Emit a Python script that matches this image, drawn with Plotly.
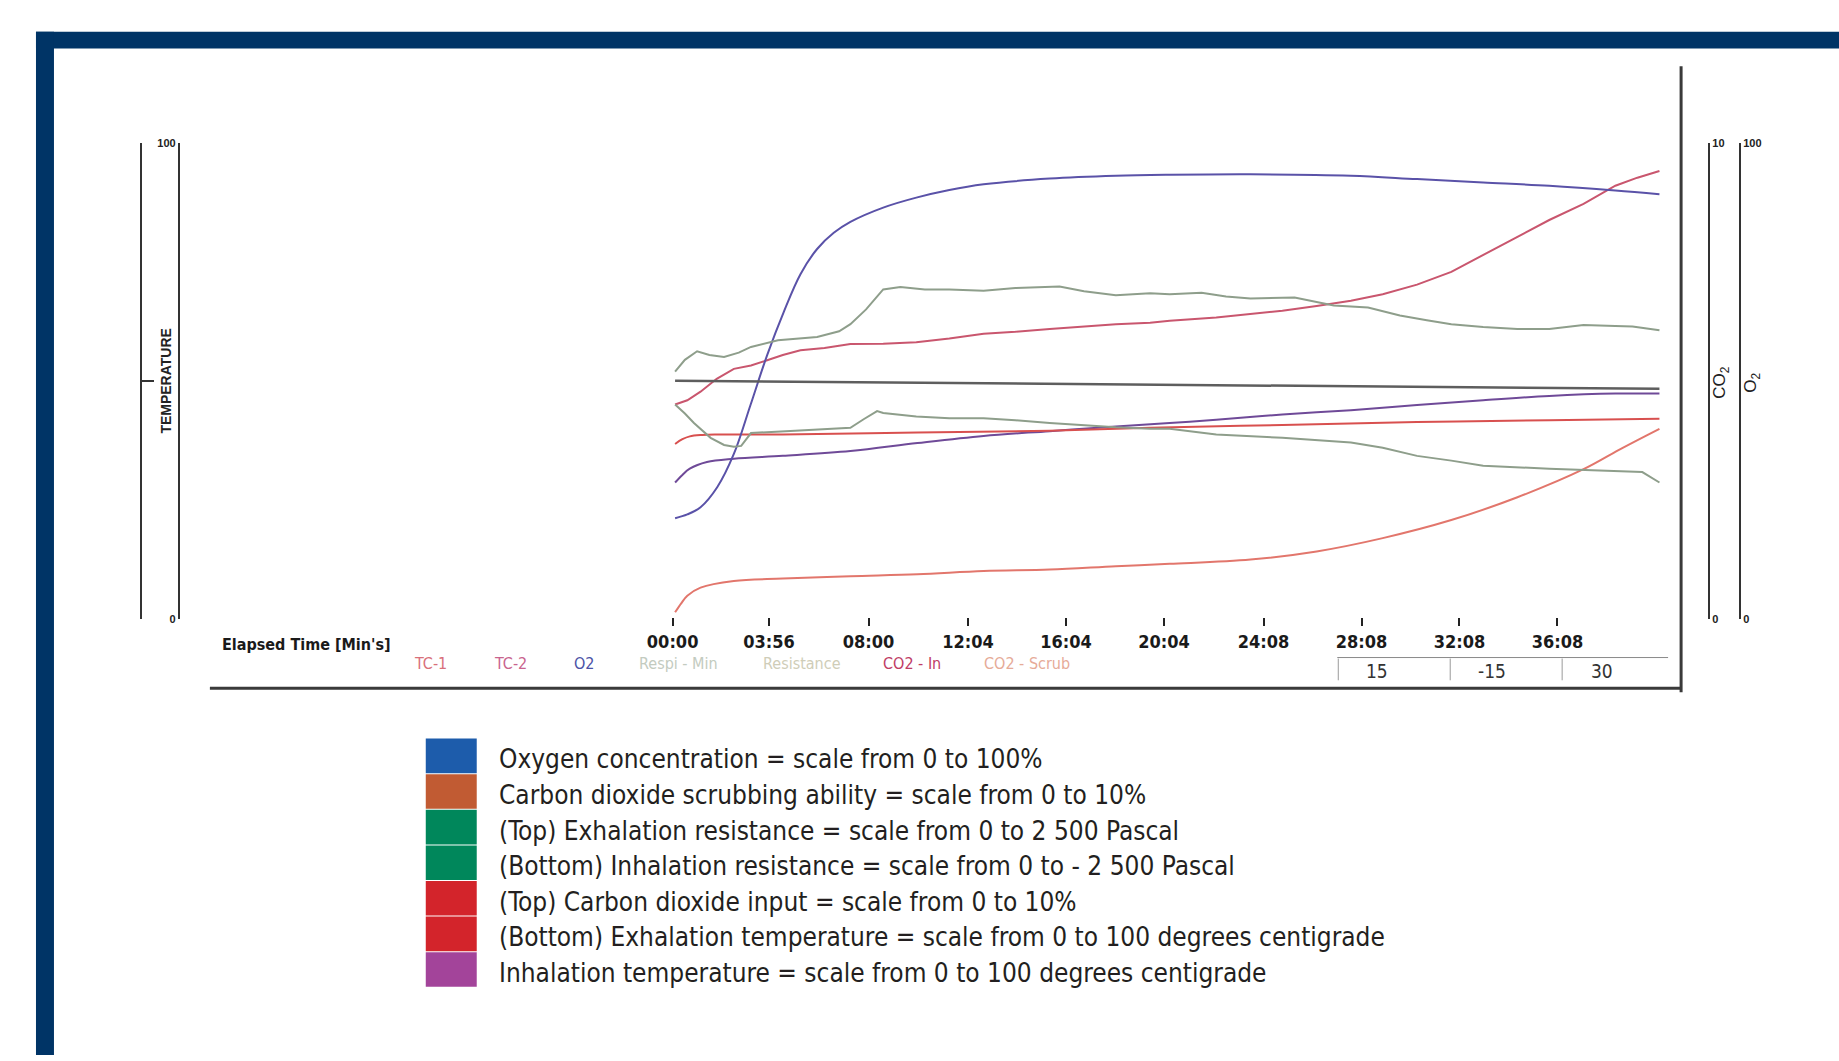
import plotly.graph_objects as go

W, H = 1839, 1061

# ---------------- data ----------------
# time in minutes
tick_minutes = [0, 3 + 56/60, 8, 12 + 4/60, 16 + 4/60, 20 + 4/60, 24 + 8/60, 28 + 8/60, 32 + 8/60, 36 + 8/60]
tick_labels = ["00:00", "03:56", "08:00", "12:04", "16:04", "20:04", "24:08", "28:08", "32:08", "36:08"]

# Oxygen concentration (%), scale 0-100
t_o2 = [0.1, 0.6, 1.14, 1.82, 2.5, 3.18, 3.86, 4.54, 5.22, 5.9, 6.58, 7.26, 8.6, 9.95, 11.3, 12.7,
        15.4, 18.1, 20.3, 23.6, 27.7, 30.4, 33.1, 35.8, 38.5, 40.3]
o2 = [21.2, 22.0, 23.5, 27.7, 34.7, 45.0, 55.5, 64.6, 72.5, 77.8, 81.2, 83.5, 86.5, 88.6, 90.2, 91.4,
      92.6, 93.2, 93.4, 93.5, 93.2, 92.5, 91.8, 91.1, 90.1, 89.3]

# Carbon dioxide input (%), scale 0-10
t_co2_in = [0.1, 0.6, 1.14, 1.8, 2.5, 3.2, 3.86, 4.5, 5.22, 6.2, 7.26, 8.6, 9.95, 11.3, 12.7, 14.0, 15.4,
            16.8, 18.1, 19.5, 20.3, 22.2, 24.9, 26.3, 27.7, 29.0, 30.4, 31.8, 33.1, 34.5, 35.8, 37.2,
            38.5, 39.4, 40.3]
co2_in = [4.51, 4.60, 4.78, 5.05, 5.26, 5.33, 5.44, 5.55, 5.65, 5.70, 5.78, 5.79, 5.82, 5.90, 6.00, 6.04,
          6.10, 6.15, 6.20, 6.23, 6.27, 6.34, 6.48, 6.58, 6.69, 6.83, 7.03, 7.30, 7.66, 8.04, 8.39, 8.73,
          9.11, 9.28, 9.42]

# Carbon dioxide scrubbing (%), scale 0-10
t_co2_scrub = [0.1, 0.35, 0.6, 1.14, 2.5, 4.5, 7.26, 10.0, 12.7, 15.4, 18.1, 20.3, 23.6, 26.3, 29.0,
               31.8, 34.5, 37.2, 38.8, 40.3]
co2_scrub = [0.14, 0.33, 0.49, 0.66, 0.80, 0.85, 0.90, 0.94, 1.01, 1.04, 1.11, 1.16, 1.25, 1.42, 1.70,
             2.08, 2.56, 3.15, 3.60, 4.00]

# Exhalation resistance (Pa), scale 0 to 2500 (upper half)
t_exh_res = [0.1, 0.5, 1.0, 1.5, 2.1, 2.7, 3.2, 4.3, 5.9, 6.8, 7.26, 7.9, 8.6, 9.3, 10.3, 11.3, 12.7,
             14.0, 15.8, 16.8, 18.1, 19.5, 20.3, 21.6, 22.6, 23.6, 25.4, 27.0, 28.4, 29.7, 30.8, 31.8,
             33.1, 34.5, 35.8, 37.2, 38.5, 39.2, 40.3]
exh_res = [100, 225, 315, 275, 255, 300, 360, 430, 465, 525, 600, 755, 965, 990, 965, 965, 950,
           980, 995, 945, 905, 925, 915, 930, 890, 870, 880, 795, 775, 690, 640, 600,
           570, 550, 550, 590, 580, 575, 535]

# Inhalation resistance (Pa), scale 0 to -2500 (lower half)
t_inh_res = [0.1, 0.5, 0.87, 1.55, 2.1, 2.5, 2.8, 3.2, 5.0, 7.26, 7.8, 8.35, 8.6, 9.95, 11.3, 12.7,
             14.0, 15.4, 18.1, 19.5, 20.3, 22.2, 24.9, 27.7, 29.0, 30.4, 31.8, 33.1, 35.8, 38.5, 39.6, 40.3]
inh_res = [-245, -340, -440, -595, -670, -690, -680, -545, -520, -490, -400, -315, -335, -370, -390, -390,
           -410, -440, -485, -500, -500, -560, -595, -645, -700, -785, -835, -890, -920, -940, -955, -1065]

# Resistance zero line (Pa)
t_res_zero = [0.1, 20.0, 40.3]
res_zero = [5, -35, -80]

# TC-1: exhalation temperature (deg C), scale 0-100
t_exh_temp = [0.1, 0.4, 0.7, 1.2, 1.8, 4.5, 10.0, 15.4, 19.5, 24.9, 30.4, 35.8, 40.3]
exh_temp = [36.8, 37.8, 38.4, 38.7, 38.8, 38.8, 39.2, 39.6, 40.2, 40.8, 41.4, 41.8, 42.1]

# TC-2: inhalation temperature (deg C), scale 0-100
t_inh_temp = [0.1, 0.4, 0.7, 1.4, 2.5, 4.5, 7.26, 10.0, 12.7, 15.4, 18.1, 20.3, 22.2, 24.9, 27.7, 30.4,
              33.1, 35.8, 38.5, 40.3]
inh_temp = [28.7, 30.3, 31.6, 33.0, 33.7, 34.3, 35.3, 37.0, 38.5, 39.5, 40.5, 41.2, 41.9, 43.0, 43.9, 45.0,
            46.0, 46.9, 47.4, 47.4]

channel_labels = ["TC-1", "TC-2", "O2", "Respi - Min", "Resistance", "CO2 - In", "CO2 - Scrub"]
scale_labels = ["15", "-15", "30"]

legend_texts = [
    "Oxygen concentration = scale from 0 to 100%",
    "Carbon dioxide scrubbing ability = scale from 0 to 10%",
    "(Top) Exhalation resistance = scale from 0 to 2 500 Pascal",
    "(Bottom) Inhalation resistance = scale from 0 to - 2 500 Pascal",
    "(Top) Carbon dioxide input = scale from 0 to 10%",
    "(Bottom) Exhalation temperature = scale from 0 to 100 degrees centigrade",
    "Inhalation temperature = scale from 0 to 100 degrees centigrade",
]

# ---------------- styling ----------------
NAVY = "#003466"
NARROW = "Liberation Sans Narrow, DejaVu Sans Condensed, Arial Narrow, sans-serif"
LEG_FONT = "DejaVu Sans Condensed, DejaVu Sans, sans-serif"
legend_colors = ["#1d5cab", "#c15b33", "#00875b", "#00875b", "#d3242b", "#d3242b", "#a3449a"]
channel_colors = ["#d9707a", "#c9648e", "#4b52a6", "#c3cbc0", "#cfcdb8", "#c03c66", "#e6ab98"]


def px(x):
    return x / W


def py(y):
    return 1 - y / H


X0_PX, PPM = 672.0, 24.5          # pixel of t=0, pixels per minute
T_MIN, T_MAX = -1.0, 41.5
Y_TOP, Y_BOT = 139.0, 620.0        # plot domain in pixels

fig = go.Figure()

line_o2 = "#5a52a8"
line_purple = "#6f4a98"
line_red_top = "#c9566e"
line_red_bot = "#d8504f"
line_scrub = "#e2766c"
line_green = "#8e9e8b"

fig.add_trace(go.Scatter(x=t_res_zero, y=res_zero, yaxis="y5", mode="lines",
                         line=dict(color="#5e5e5e", width=2.5)))
fig.add_trace(go.Scatter(x=t_exh_res, y=exh_res, yaxis="y5", mode="lines",
                         line=dict(color=line_green, width=2)))
fig.add_trace(go.Scatter(x=t_inh_res, y=inh_res, yaxis="y5", mode="lines",
                         line=dict(color=line_green, width=2)))
fig.add_trace(go.Scatter(x=t_co2_scrub, y=co2_scrub, yaxis="y3", mode="lines",
                         line=dict(color=line_scrub, width=2, shape="spline")))
fig.add_trace(go.Scatter(x=t_co2_in, y=co2_in, yaxis="y3", mode="lines",
                         line=dict(color=line_red_top, width=2)))
fig.add_trace(go.Scatter(x=t_exh_temp, y=exh_temp, yaxis="y2", mode="lines",
                         line=dict(color=line_red_bot, width=2, shape="spline")))
fig.add_trace(go.Scatter(x=t_inh_temp, y=inh_temp, yaxis="y", mode="lines",
                         line=dict(color=line_purple, width=2, shape="spline")))
fig.add_trace(go.Scatter(x=t_o2, y=o2, yaxis="y4", mode="lines",
                         line=dict(color=line_o2, width=2, shape="spline")))

ydom = [py(Y_BOT), py(Y_TOP)]
axis_font = dict(family="Liberation Sans, Arial, sans-serif", size=11, color="#222")

common_y = dict(domain=ydom, anchor="free", showgrid=False, zeroline=False, showline=True,
                linecolor="#333", linewidth=2, ticks="inside", tickcolor="#333", tickwidth=2,
                tickfont=axis_font)

fig.update_layout(
    width=W, height=H, autosize=False,
    margin=dict(l=0, r=0, t=0, b=0),
    paper_bgcolor="white", plot_bgcolor="rgba(0,0,0,0)",
    showlegend=False,
    xaxis=dict(domain=[px(X0_PX + PPM * T_MIN), px(X0_PX + PPM * T_MAX)], range=[T_MIN, T_MAX],
               anchor="free", position=py(618), showgrid=False, zeroline=False, showline=False,
               tickvals=tick_minutes, ticktext=["<b>%s</b>" % s for s in tick_labels],
               ticks="outside", ticklen=8, tickwidth=1.5, tickcolor="#222",
               tickfont=dict(family=NARROW, size=18, color="#1a1a1a")),
    yaxis=dict(common_y, position=px(178), side="left", range=[0, 100],
               tickvals=[0, 100], ticktext=["<b>0</b>", "<b>100</b>"], ticklen=10),
    yaxis2=dict(common_y, overlaying="y", position=px(140), side="left", range=[0, 100],
                tickvals=[0, 50, 100], showticklabels=False, ticklen=12),
    yaxis3=dict(common_y, overlaying="y", position=px(1709), side="right", range=[0, 10],
                tickvals=[0, 10], ticktext=["<b>0</b>", "<b>10</b>"], ticklen=14),
    yaxis4=dict(common_y, overlaying="y", position=px(1740), side="right", range=[0, 100],
                tickvals=[0, 100], ticktext=["<b>0</b>", "<b>100</b>"], ticklen=14),
    yaxis5=dict(domain=ydom, overlaying="y", anchor="free", position=px(178),
                range=[-2500, 2500], visible=False),
)

shapes = []
# navy page border
shapes.append(dict(type="rect", xref="paper", yref="paper", x0=px(35), x1=px(W), y0=py(43), y1=py(26),
                   fillcolor=NAVY, line=dict(width=0), layer="below"))
shapes.append(dict(type="rect", xref="paper", yref="paper", x0=px(35), x1=px(53), y0=py(H), y1=py(26),
                   fillcolor=NAVY, line=dict(width=0), layer="below"))
# frame of the printout
shapes.append(dict(type="line", xref="paper", yref="paper", x0=px(1681), x1=px(1681), y0=py(694), y1=py(61),
                   line=dict(color="#3a3a3a", width=3)))
shapes.append(dict(type="line", xref="paper", yref="paper", x0=px(209), x1=px(1681), y0=py(690), y1=py(690),
                   line=dict(color="#3a3a3a", width=3)))
# bottom-right scale bar
shapes.append(dict(type="line", xref="paper", yref="paper", x0=px(1337), x1=px(1668), y0=py(659), y1=py(659),
                   line=dict(color="#8a8a8a", width=1)))
for xx in [1338, 1450, 1562]:
    shapes.append(dict(type="line", xref="paper", yref="paper", x0=px(xx), x1=px(xx), y0=py(682), y1=py(660),
                       line=dict(color="#9a9a9a", width=1)))
# legend colour keys
ROW_TOP, ROW_H = 741.0, 36.0
for i, c in enumerate(legend_colors):
    shapes.append(dict(type="rect", xref="paper", yref="paper", x0=px(425), x1=px(476),
                       y0=py(ROW_TOP + ROW_H * (i + 1) - 1), y1=py(ROW_TOP + ROW_H * i),
                       fillcolor=c, line=dict(width=0)))
fig.update_layout(shapes=shapes)


def label(x, y, text, font, angle=0, xanchor="center"):
    return dict(x=px(x), y=py(y), xref="paper", yref="paper", text=text, textangle=angle,
                xanchor=xanchor, yanchor="middle", showarrow=False, font=font)


ann = []
ann.append(label(165, 379, "<b>TEMPERATURE</b>",
                 dict(family="Liberation Sans, Arial, sans-serif", size=14, color="#222"), angle=-90))
ann.append(label(1721, 381, "CO<sub>2</sub>",
                 dict(family="Liberation Sans, Arial, sans-serif", size=17, color="#222"), angle=-90))
ann.append(label(1752, 381, "O<sub>2</sub>",
                 dict(family="Liberation Sans, Arial, sans-serif", size=17, color="#222"), angle=-90))
ann.append(label(219, 646, "<b>Elapsed Time [Min's]</b>", dict(family=NARROW, size=16, color="#1a1a1a"),
                 xanchor="left"))
channel_x = [430, 510, 583, 678, 801, 911, 1027]
for lbl, cx, col in zip(channel_labels, channel_x, channel_colors):
    ann.append(label(cx, 665, lbl, dict(family=NARROW, size=16, color=col)))
for lbl, cx in zip(scale_labels, [1377, 1492, 1602]):
    ann.append(label(cx, 673, lbl, dict(family=NARROW, size=19, color="#333")))
for i, txt in enumerate(legend_texts):
    ann.append(label(496, ROW_TOP + ROW_H * i + ROW_H / 2 + 3, txt,
                     dict(family=LEG_FONT, size=26, color="#231f20"), xanchor="left"))
fig.update_layout(annotations=ann)

fig.write_html("out.html", config={"displayModeBar": False},
               post_script="document.body.style.margin='0';document.body.style.overflow='hidden';")
